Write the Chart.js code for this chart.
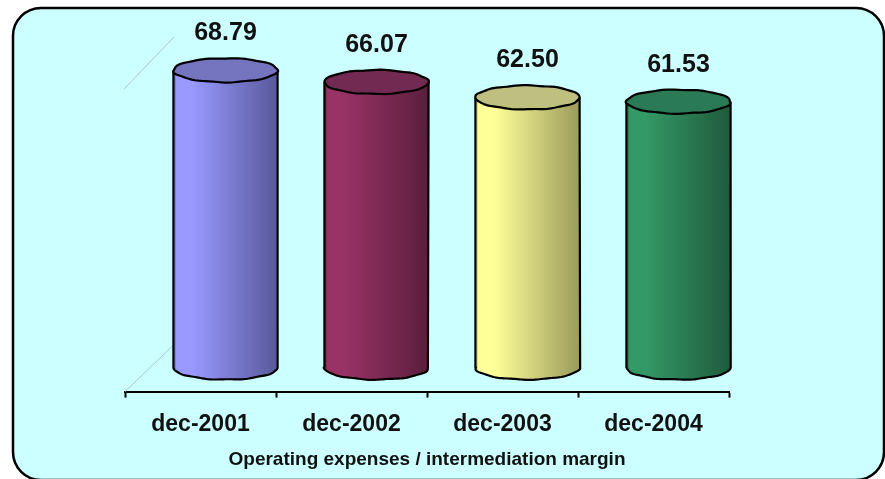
<!DOCTYPE html>
<html>
<head>
<meta charset="utf-8">
<script src="https://cdn.jsdelivr.net/npm/chart.js@4"></script>
<style>
  html, body { margin: 0; padding: 0; background: #ffffff; }
  #wrap { position: relative; width: 885px; height: 479px; }
  canvas { display: block; }
</style>
</head>
<body>
<div id="wrap"><canvas id="c" width="885" height="479"></canvas></div>
<script>
// Operating expenses as a share of intermediation margin, year-end values
const categories = ['dec-2001', 'dec-2002', 'dec-2003', 'dec-2004'];
const ratios = [68.79, 66.07, 62.50, 61.53];
const axisTitle = 'Operating expenses / intermediation margin';

// Cylinder shading per bar: [light side, dark side, top face]
const lightColors = ['#9999ff', '#993366', '#ffff99', '#339966'];
const darkColors  = ['#58589a', '#5a1e3c', '#9b9b5c', '#1f5a3d'];
const topColors   = ['#7474bf', '#722a52', '#bfbf7f', '#2a7a55'];

const FONT = '"Liberation Sans", Arial, Helvetica, sans-serif';
const DEPTH_X = 50, DEPTH_Y = 48;   // 3D depth of the plot box
const RY = 12;                      // ellipse half-height of cylinder caps

// Rounded panel behind the chart
const panelPlugin = {
  id: 'panel',
  beforeDraw(chart) {
    const ctx = chart.ctx;
    ctx.save();
    ctx.fillStyle = '#ffffff';
    ctx.fillRect(0, 0, chart.width, chart.height);
    const x = 13, y = 8, w = 871, h = 472, r = 28;
    ctx.beginPath();
    ctx.moveTo(x + r, y);
    ctx.lineTo(x + w - r, y);
    ctx.arcTo(x + w, y, x + w, y + r, r);
    ctx.lineTo(x + w, y + h - r);
    ctx.arcTo(x + w, y + h, x + w - r, y + h, r);
    ctx.lineTo(x + r, y + h);
    ctx.arcTo(x, y + h, x, y + h - r, r);
    ctx.lineTo(x, y + r);
    ctx.arcTo(x, y, x + r, y, r);
    ctx.closePath();
    ctx.fillStyle = '#ccffff';
    ctx.fill();
    ctx.lineWidth = 2.5;
    ctx.strokeStyle = '#000000';
    ctx.stroke();
    ctx.restore();
  },
  beforeDatasetsDraw(chart) {
    // faint depth edges of the plot box on the left side
    const { left, top, bottom } = chart.chartArea;
    const ctx = chart.ctx;
    ctx.save();
    ctx.strokeStyle = '#a9c9cf';
    ctx.lineWidth = 1;
    ctx.beginPath();
    ctx.moveTo(left - 1, top);
    ctx.lineTo(left - 1 + DEPTH_X, top - DEPTH_Y - 4);
    ctx.moveTo(left, bottom);
    ctx.lineTo(left + DEPTH_X, bottom - DEPTH_Y);
    ctx.stroke();
    ctx.restore();
  }
};

// slightly irregular ellipse outline, like a hand-drawn cap
function capPath(ctx, cx, cy, rx, ry, seed, from, to) {
  const n = 80;
  for (let i = 0; i <= n; i++) {
    const t = from + (to - from) * i / n;
    const wob = 1 + 0.01 * Math.sin(7 * t + seed) + 0.006 * Math.sin(11 * t + seed * 2);
    const px = cx + rx * Math.cos(t) * wob;
    const py = cy + ry * Math.sin(t) * (1 + 0.03 * Math.sin(9 * t + seed));
    if (i === 0 && from === 0 && to === Math.PI * 2) ctx.moveTo(px, py);
    else ctx.lineTo(px, py);
  }
}

const cylinderPlugin = {
  id: 'cylinders',
  afterDatasetsDraw(chart) {
    const ctx = chart.ctx;
    const meta = chart.getDatasetMeta(0);
    meta.data.forEach((bar, i) => {
      const p = bar.getProps(['x', 'y', 'base', 'width'], true);
      const cx = p.x + DEPTH_X / 2;
      const topY = p.y - DEPTH_Y / 2;
      const botY = p.base - DEPTH_Y / 2;
      const rx = p.width / 2;
      const l = cx - rx, r = cx + rx;
      const seed = i * 1.7 + 0.4;

      // side of the cylinder
      const g = ctx.createLinearGradient(l, 0, r, 0);
      g.addColorStop(0, darkColors[i]);
      g.addColorStop(0.03, lightColors[i]);
      g.addColorStop(0.18, lightColors[i]);
      g.addColorStop(1, darkColors[i]);
      ctx.save();
      ctx.beginPath();
      ctx.moveTo(l, topY);
      ctx.lineTo(l, botY);
      capPath(ctx, cx, botY, rx, RY, seed + 3, Math.PI, 0);
      ctx.lineTo(r, topY);
      ctx.closePath();
      ctx.fillStyle = g;
      ctx.fill();
      ctx.lineWidth = 2.2;
      ctx.strokeStyle = '#000000';
      ctx.lineJoin = 'round';
      ctx.beginPath();
      ctx.moveTo(l, topY);
      ctx.lineTo(l, botY);
      capPath(ctx, cx, botY, rx, RY, seed + 3, Math.PI, 0);
      ctx.lineTo(r, topY);
      ctx.stroke();

      // top cap
      ctx.beginPath();
      capPath(ctx, cx, topY, rx, RY, seed, 0, Math.PI * 2);
      ctx.closePath();
      ctx.fillStyle = topColors[i];
      ctx.fill();
      ctx.stroke();

      // value label above the cap
      ctx.fillStyle = '#111111';
      ctx.font = 'bold 25px ' + FONT;
      ctx.textAlign = 'center';
      ctx.textBaseline = 'middle';
      ctx.fillText(ratios[i].toFixed(2), cx, topY - 37);
      ctx.restore();
    });
  }
};

new Chart(document.getElementById('c'), {
  type: 'bar',
  data: {
    labels: categories,
    datasets: [{
      data: ratios,
      backgroundColor: 'rgba(0,0,0,0)',
      borderWidth: 0,
      barPercentage: 0.69,
      categoryPercentage: 1
    }]
  },
  options: {
    responsive: false,
    animation: false,
    events: [],
    layout: { padding: { left: 125, right: 156, top: 89, bottom: 8 } },
    plugins: { legend: { display: false }, tooltip: { enabled: false } },
    scales: {
      x: {
        offset: true,
        grid: {
          offset: true,
          drawOnChartArea: false,
          drawTicks: true,
          tickLength: 6,
          tickWidth: 2,
          tickColor: '#000000'
        },
        border: { display: true, color: '#000000', width: 2 },
        ticks: {
          color: '#111111',
          padding: 13,
          maxRotation: 0,
          font: { family: FONT, size: 23, weight: 'bold' }
        },
        title: {
          display: true,
          text: axisTitle,
          color: '#111111',
          padding: { top: -3, bottom: 0 },
          font: { family: FONT, size: 19, weight: 'bold' }
        }
      },
      y: {
        display: false,
        min: 0,
        max: 70
      }
    }
  },
  plugins: [panelPlugin, cylinderPlugin]
});
</script>
</body>
</html>
